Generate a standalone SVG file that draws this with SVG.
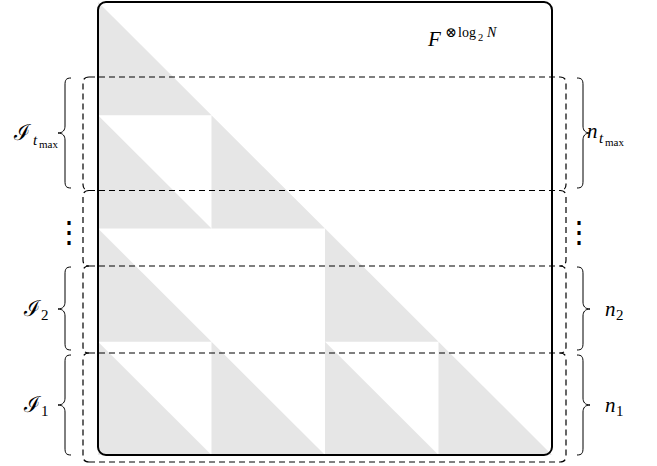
<svg xmlns="http://www.w3.org/2000/svg" width="657" height="466" viewBox="0 0 657 466">
<style>
.tri{fill:#e6e6e6;stroke:none}
.frame{fill:none;stroke:#000;stroke-width:2}
.dash{fill:none;stroke:#000;stroke-width:1.2;stroke-dasharray:6 4}
.brace{fill:none;stroke:#000;stroke-width:1}
.m{font-family:"Liberation Serif","DejaVu Serif",serif;fill:#000}
.it{font-style:italic}
.vd{font-family:"Noto Sans CJK JP","Noto Sans",sans-serif;fill:#000}
</style>
<rect width="657" height="466" fill="#fff"/>
<g id="matrix">
<g id="triangles">
<polygon class="tri" points="98,2 98,115.25 211.5,115.25"/>
<polygon class="tri" points="98,115.25 98,228.5 211.5,228.5"/>
<polygon class="tri" points="211.5,115.25 211.5,228.5 325,228.5"/>
<polygon class="tri" points="98,228.5 98,341.75 211.5,341.75"/>
<polygon class="tri" points="325,228.5 325,341.75 438.5,341.75"/>
<polygon class="tri" points="98,341.75 98,455 211.5,455"/>
<polygon class="tri" points="211.5,341.75 211.5,455 325,455"/>
<polygon class="tri" points="325,341.75 325,455 438.5,455"/>
<polygon class="tri" points="438.5,341.75 438.5,455 552,455"/>
</g>
<rect class="frame" x="98" y="2" width="454" height="453" rx="8"/>
<text class="m it" x="428" y="46" font-size="21">F</text>
<text class="m" x="445" y="37" font-size="14">⊗</text>
<text class="m" x="458" y="37" font-size="14">log</text>
<text class="m" x="478" y="41" font-size="10.5">2</text>
<text class="m it" x="487" y="37" font-size="14">N</text>
</g>
<g id="groups">
<path class="dash" d="M89,77 H560"/>
<path class="dash" d="M89,190.5 H560"/>
<path class="dash" d="M89,266 H560"/>
<path class="dash" d="M89,353 H560"/>
<path class="dash" d="M89,462 H560"/>
<path class="dash" d="M89,77 Q83,77 83,83 V184.5 Q83,190.5 89,190.5"/>
<path class="dash" d="M89,190.5 Q83,190.5 83,196.5 V260 Q83,266 89,266"/>
<path class="dash" d="M89,266 Q83,266 83,272 V347 Q83,353 89,353"/>
<path class="dash" d="M89,353 Q83,353 83,359 V456 Q83,462 89,462"/>
<path class="dash" d="M560,77 Q566,77 566,83 V184.5 Q566,190.5 560,190.5"/>
<path class="dash" d="M560,190.5 Q566,190.5 566,196.5 V260 Q566,266 560,266"/>
<path class="dash" d="M560,266 Q566,266 566,272 V347 Q566,353 560,353"/>
<path class="dash" d="M560,353 Q566,353 566,359 V456 Q566,462 560,462"/>
</g>
<g id="connectors">
<path class="brace" d="M71,78 C66,78 65,80 65,85 L65,126 C65,130 63,133 58,133 C63,133 65,136 65,140 L65,181 C65,186 66,188 71,188"/>
<path class="brace" d="M71,267 C66,267 65,269 65,274 L65,302 C65,306 63,309 58,309 C63,309 65,312 65,316 L65,343 C65,348 66,350 71,350"/>
<path class="brace" d="M71,355 C66,355 65,357 65,362 L65,398 C65,402 63,405 58,405 C63,405 65,408 65,412 L65,448 C65,453 66,455 71,455"/>
<path class="brace" d="M577,78 C582,78 583,80 583,85 L583,126 C583,130 585,133 590,133 C585,133 583,136 583,140 L583,181 C583,186 582,188 577,188"/>
<path class="brace" d="M577,267 C582,267 583,269 583,274 L583,302 C583,306 585,309 590,309 C585,309 583,312 583,316 L583,343 C583,348 582,350 577,350"/>
<path class="brace" d="M577,355 C582,355 583,357 583,362 L583,398 C583,402 585,405 590,405 C585,405 583,408 583,412 L583,448 C583,453 582,455 577,455"/>
</g>
<g id="labels-left">
<g id="label-Itmax"><text class="m" x="14" y="140" font-size="22">ℐ</text><text class="m it" x="33" y="145" font-size="15">t</text><text class="m" x="39" y="148" font-size="11">max</text></g>
<g id="label-vdots-left"><text class="vd" x="69" y="242" font-size="30" text-anchor="middle">⋮</text></g>
<g id="label-I2"><text class="m" x="24" y="316" font-size="22">ℐ</text><text class="m" x="41" y="320" font-size="15">2</text></g>
<g id="label-I1"><text class="m" x="24" y="412" font-size="22">ℐ</text><text class="m" x="41" y="416" font-size="15">1</text></g>
</g>
<g id="labels-right">
<g id="label-ntmax"><text class="m it" x="587" y="138" font-size="21">n</text><text class="m it" x="599" y="143" font-size="15">t</text><text class="m" x="605" y="146" font-size="11">max</text></g>
<g id="label-vdots-right"><text class="vd" x="579" y="242" font-size="30" text-anchor="middle">⋮</text></g>
<g id="label-n2"><text class="m it" x="605" y="316" font-size="21">n</text><text class="m" x="616" y="320" font-size="15">2</text></g>
<g id="label-n1"><text class="m it" x="605" y="412" font-size="21">n</text><text class="m" x="616" y="416" font-size="15">1</text></g>
</g>
</svg>
